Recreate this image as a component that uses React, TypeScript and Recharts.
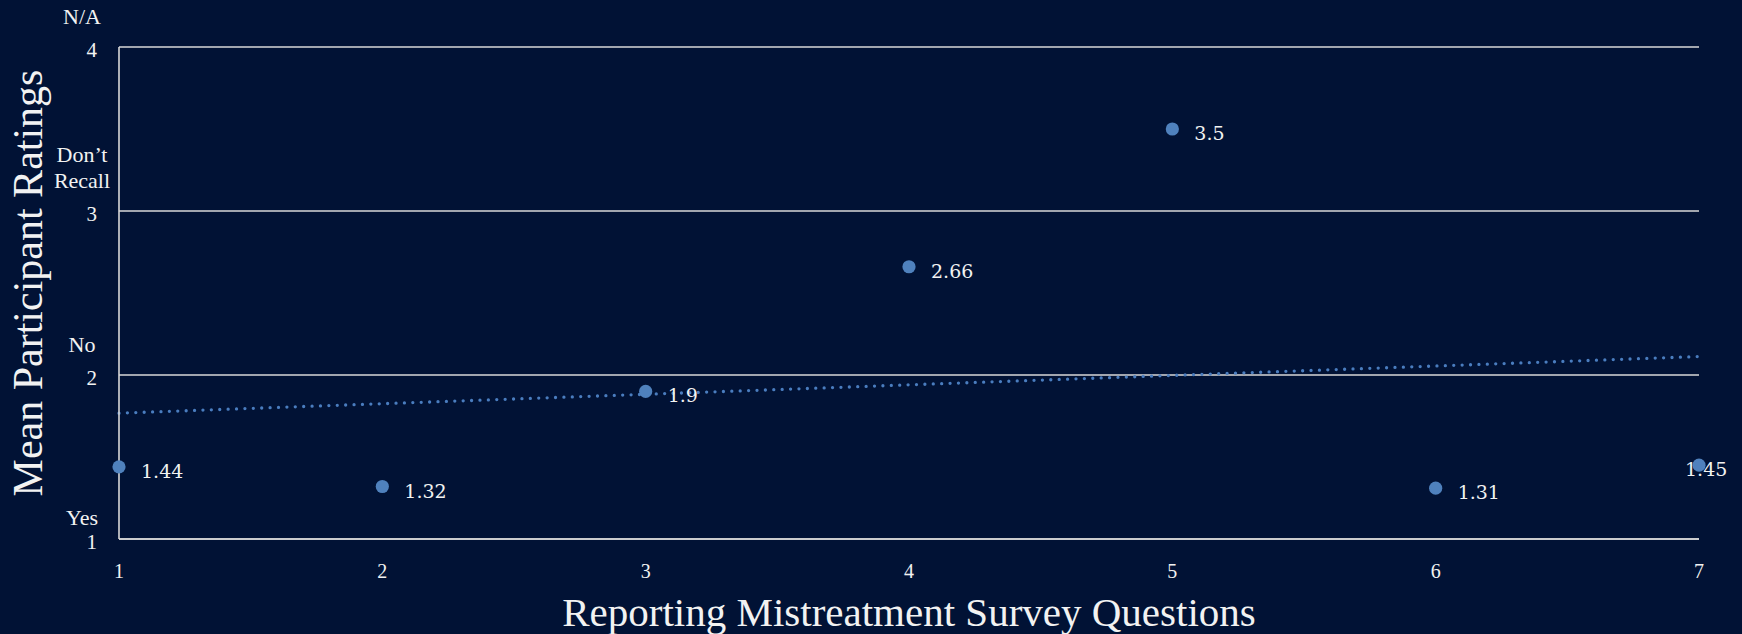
import React from 'react';
import { ComposedChart, Scatter, Line, XAxis, YAxis, CartesianGrid, Label } from 'recharts';

// Survey questions on the x axis and their mean participant ratings
const questions = [1, 2, 3, 4, 5, 6, 7];
const meanRatings = [1.44, 1.32, 1.9, 2.66, 3.5, 1.31, 1.45];

// Rating scale: numeric ticks plus the answer wording shown above each one
const ratingTicks = [1, 2, 3, 4];
const ratingWords = [['Yes'], ['No'], ['Don\u2019t', 'Recall'], ['N/A']];

const xTitle = 'Reporting Mistreatment Survey Questions';
const yTitle = 'Mean Participant Ratings';

const BG = '#011235';
const GRID = '#d9d9d9';
const BLUE = '#4f81bd';
const TEXT = '#f2f2f2';
const SERIF = '"Liberation Serif", "Times New Roman", serif';
const LABEL_FONT = '"DejaVu Serif", Georgia, serif';

// Ordinary least-squares linear trend of the ratings
function linearTrend(xs: number[], ys: number[]) {
  const n = xs.length;
  const mx = xs.reduce((s, v) => s + v, 0) / n;
  const my = ys.reduce((s, v) => s + v, 0) / n;
  let num = 0;
  let den = 0;
  xs.forEach((x, i) => {
    num += (x - mx) * (ys[i] - my);
    den += (x - mx) * (x - mx);
  });
  const slope = num / den;
  return (x: number) => my + slope * (x - mx);
}

const trend = linearTrend(questions, meanRatings);

const rows = questions.map((q, i) => ({
  q,
  rating: meanRatings[i],
  trend: trend(q),
}));

const lastQuestion = questions[questions.length - 1];

const PointWithLabel = (props: any) => {
  const { cx, cy, payload } = props;
  if (cx == null || cy == null) return null;
  const isLast = payload.q === lastQuestion;
  const tx = isLast ? cx - 14 : cx + 22;
  return (
    <g>
      <text
        x={tx}
        y={cy + 4}
        dominantBaseline="central"
        fill={TEXT}
        fontFamily={LABEL_FONT}
        fontSize={19}
      >
        {String(payload.rating)}
      </text>
      <circle cx={cx} cy={cy} r={6.6} fill={BLUE} />
    </g>
  );
};

const YTick = (props: any) => {
  const { y, payload } = props;
  const idx = ratingTicks.indexOf(payload.value);
  const words = idx >= 0 ? ratingWords[idx] : [];
  const lift = payload.value === 1 ? 22 : 31;
  const lineGap = 26;
  return (
    <g>
      <text
        x={97}
        y={y + 3}
        textAnchor="end"
        dominantBaseline="central"
        fill={TEXT}
        fontFamily={SERIF}
        fontSize={21}
      >
        {payload.value}
      </text>
      {words.map((w, i) => (
        <text
          key={w}
          x={82}
          y={y - lift - (words.length - 1 - i) * lineGap}
          textAnchor="middle"
          dominantBaseline="central"
          fill={TEXT}
          fontFamily={SERIF}
          fontSize={22}
        >
          {w}
        </text>
      ))}
    </g>
  );
};

const XTick = (props: any) => {
  const { x, y, payload } = props;
  return (
    <text
      x={x}
      y={y + 30}
      textAnchor="middle"
      dominantBaseline="central"
      fill={TEXT}
      fontFamily={SERIF}
      fontSize={20}
    >
      {payload.value}
    </text>
  );
};

export default function App() {
  return (
    <div
      style={{
        position: 'fixed',
        left: 0,
        top: 0,
        width: 1742,
        height: 634,
        background: BG,
      }}
    >
      <ComposedChart
        width={1742}
        height={634}
        data={rows}
        margin={{ top: 47, right: 43, bottom: 0, left: 0 }}
      >
        <CartesianGrid vertical={false} stroke={GRID} strokeWidth={1.6} />
        <XAxis
          type="number"
          dataKey="q"
          domain={[1, 7]}
          ticks={questions}
          interval={0}
          height={95}
          axisLine={{ stroke: GRID, strokeWidth: 1.6 }}
          tickLine={false}
          tickSize={0}
          tick={<XTick />}
        >
          <Label
            content={(p: any) => {
              const vb = p.viewBox;
              return (
                <text
                  x={vb.x + vb.width / 2}
                  y={vb.y + 73}
                  textAnchor="middle"
                  dominantBaseline="central"
                  fill={TEXT}
                  fontFamily={SERIF}
                  fontSize={41}
                >
                  {xTitle}
                </text>
              );
            }}
          />
        </XAxis>
        <YAxis
          type="number"
          domain={[1, 4]}
          ticks={ratingTicks}
          interval={0}
          width={119}
          axisLine={{ stroke: GRID, strokeWidth: 1.6 }}
          tickLine={false}
          tickSize={0}
          tick={<YTick />}
        >
          <Label
            content={(p: any) => {
              const vb = p.viewBox;
              const cy = vb.y + vb.height / 2 - 10;
              return (
                <text
                  x={28}
                  y={cy}
                  transform={`rotate(-90, 28, ${cy})`}
                  textAnchor="middle"
                  dominantBaseline="central"
                  fill={TEXT}
                  fontFamily={SERIF}
                  fontSize={42}
                >
                  {yTitle}
                </text>
              );
            }}
          />
        </YAxis>
        <Line
          dataKey="trend"
          stroke="#4a7dbf"
          strokeWidth={3.3}
          strokeDasharray="0 8.4"
          strokeLinecap="round"
          dot={false}
          activeDot={false}
          isAnimationActive={false}
        />
        <Scatter dataKey="rating" shape={<PointWithLabel />} isAnimationActive={false} />
      </ComposedChart>
    </div>
  );
}
